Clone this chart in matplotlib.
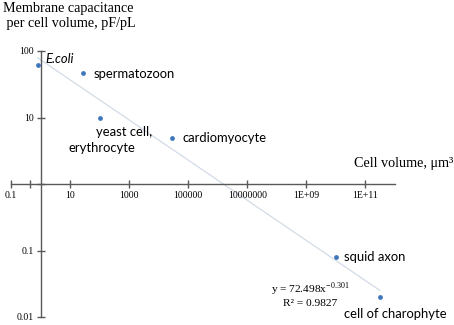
import numpy as np
import matplotlib
matplotlib.use("Agg")
import matplotlib.pyplot as plt
from matplotlib.ticker import FixedLocator, FixedFormatter

# cell volume (um^3) and membrane capacitance per volume (pF/pL)
cells = ["E.coli", "spermatozoon", "yeast cell,\nerythrocyte", "cardiomyocyte",
         "squid axon", "cell of charophyte"]
volume = [0.8, 28, 100, 29000, 1.0e10, 3.0e11]
capacitance = [62, 47, 10, 5.0, 0.08, 0.02]

x_ticks = [0.1, 10, 1e3, 1e5, 1e7, 1e9, 1e11]
x_labels = ["0.1", "10", "1000", "100000", "10000000", "1E+09", "1E+11"]
y_ticks = [0.01, 0.1, 1, 10, 100]
y_labels = ["0.01", "0.1", "", "10", "100"]

serif = "Liberation Serif"
plt.rcParams["mathtext.fontset"] = "custom"
plt.rcParams["mathtext.rm"] = serif

fig = plt.figure(figsize=(4.54, 3.25), dpi=100)
ax = fig.add_axes([11 / 454, 8 / 325, 384 / 454, 266 / 325])
ax.set_xscale("log")
ax.set_yscale("log")
ax.set_xlim(0.1, 1e12)
ax.set_ylim(0.01, 100)

# axes cross at (1, 1)
ax.spines["left"].set_position(("data", 1))
ax.spines["bottom"].set_position(("data", 1))
ax.spines["top"].set_visible(False)
ax.spines["right"].set_visible(False)
for s in ["left", "bottom"]:
    ax.spines[s].set_color("#595959")
    ax.spines[s].set_linewidth(1.0)

ax.xaxis.set_major_locator(FixedLocator(x_ticks))
ax.xaxis.set_major_formatter(FixedFormatter(x_labels))
ax.xaxis.set_minor_locator(FixedLocator([0.44]))
ax.yaxis.set_major_locator(FixedLocator(y_ticks))
ax.yaxis.set_major_formatter(FixedFormatter(y_labels))
ax.yaxis.set_minor_locator(FixedLocator([]))
ax.tick_params(which="both", direction="inout", length=6, width=1.0, color="#595959",
               labelsize=7, pad=2)
for lab in ax.get_xticklabels() + ax.get_yticklabels():
    lab.set_fontfamily(serif)

# power-law trend line fitted in log space
k, b = np.polyfit(np.log10(volume), np.log10(capacitance), 1)
xs = np.logspace(np.log10(min(volume)), np.log10(max(volume)), 50)
ax.plot(xs, 10 ** b * xs ** k, color="#d3dbe6", lw=0.9, zorder=1)

ax.scatter(volume, capacitance, s=12, color="#3f77bb", zorder=3, linewidths=0)

offsets = [(8, 6), (10, -1), (-4, -14), (10, 0), (8, 0), (-36, -17)]
for i, (name, off) in enumerate(zip(cells, offsets)):
    if i == 2:
        first, second = name.split("\n")
        ax.annotate(first, (volume[i], capacitance[i]), xytext=off,
                    textcoords="offset pixels", va="center", ha="left",
                    fontsize=9.4, family="Lato")
        ax.annotate(second, (volume[i], capacitance[i]), xytext=(-31, -30),
                    textcoords="offset pixels", va="center", ha="left",
                    fontsize=9.4, family="Lato")
        continue
    ax.annotate(name, (volume[i], capacitance[i]), xytext=off,
                textcoords="offset pixels", va="center", ha="left",
                fontsize=9.4, family="Lato", style="italic" if i == 0 else "normal")

fig.text(3 / 454, 1 - 16 / 325, "Membrane capacitance\n per cell volume, pF/pL",
         family=serif, fontsize=10.2, va="center", ha="left", linespacing=1.2)
fig.text(453 / 454, 1 - 164 / 325, "Cell volume, \u03bcm\u00b3", family=serif,
         fontsize=10.2, va="center", ha="right")
fig.text(310 / 454, 1 - 289 / 325, "y = 72.498x$^{\\mathrm{-0.301}}$", family=serif,
         fontsize=8.2, va="center", ha="center")
fig.text(310 / 454, 1 - 303 / 325, "R\u00b2 = 0.9827", family=serif,
         fontsize=8.2, va="center", ha="center")

fig.savefig("out.png", dpi=100)
